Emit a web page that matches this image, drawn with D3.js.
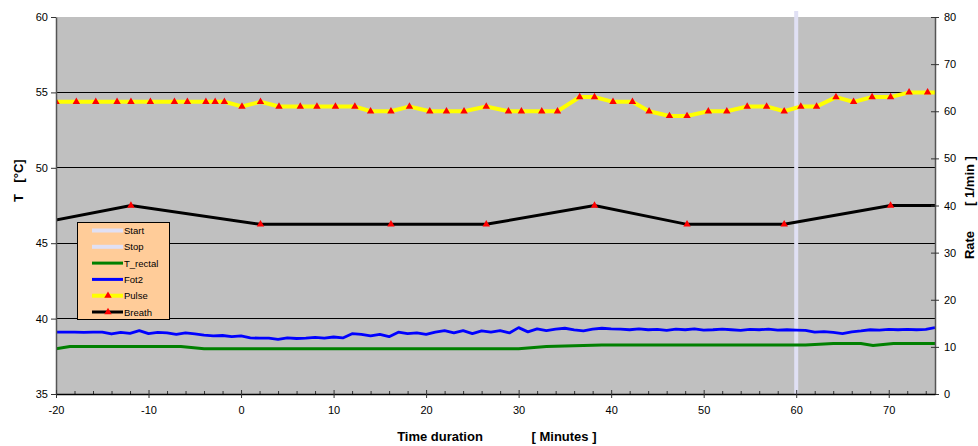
<!DOCTYPE html>
<html>
<head>
<meta charset="utf-8">
<script src="https://cdn.jsdelivr.net/npm/d3@7"></script>
<style>
  body { margin: 0; background: #fff; }
  text { font-family: "Liberation Sans", Arial, sans-serif; }
</style>
</head>
<body>
<div class="vis-area"></div>
<script>
var width = 978;
var height = 446;
var plot = {left: 56, right: 935, top: 17, bottom: 394};

// axis ticks
var timeTicks = [-20, -10, 0, 10, 20, 30, 40, 50, 60, 70];
var tempTicks = [35, 40, 45, 50, 55, 60];
var rateTicks = [0, 10, 20, 30, 40, 50, 60, 70, 80];
var startStop = [60];

// Pulse [minute, 1/min] (right axis)
var pulse = [
  [-20, 62], [-17.8, 62], [-15.7, 62], [-13.4, 62], [-11.9, 62], [-9.8, 62],
  [-7.2, 62], [-5.8, 62], [-3.8, 62], [-2.8, 62], [-1.8, 62], [0.1, 61],
  [2.1, 62], [4.1, 61], [6.4, 61], [8.2, 61], [10.2, 61], [12.3, 61],
  [14.0, 60], [16.2, 60], [18.2, 61], [20.4, 60], [22.2, 60], [24.1, 60],
  [26.5, 61], [28.9, 60], [30.3, 60], [32.5, 60], [34.2, 60], [36.6, 63],
  [38.2, 63], [40.2, 62], [42.3, 62], [44.1, 60], [46.3, 59], [48.2, 59],
  [50.5, 60], [52.5, 60], [54.7, 61], [56.8, 61], [58.7, 60], [60.5, 61],
  [62.2, 61], [64.3, 63], [66.2, 62], [68.2, 63], [70.2, 63], [72.2, 64],
  [74.2, 64], [76.5, 64]
];

// Breath [minute, 1/min] (right axis)
var breath = [
  [-22.5, 36], [-11.9, 40], [2.1, 36], [16.2, 36], [26.5, 36], [38.2, 40],
  [48.2, 36], [58.7, 36], [70.2, 40], [77, 40]
];

// T_rectal [minute, °C]
var tRectal = [
  [-20, 38.0], [-18.5, 38.15], [-6.5, 38.15], [-4, 38.0], [30, 38.0],
  [33, 38.15], [39, 38.25], [61, 38.25], [64, 38.35], [67, 38.35],
  [68.3, 38.22], [70.5, 38.35], [75, 38.35]
];

// Fot2 [minute, °C]
var fot2 = [
  [-20, 39.1], [-19, 39.1], [-18, 39.1], [-17, 39.08], [-16, 39.1], [-15, 39.1],
  [-14, 38.98], [-13, 39.08], [-12, 39.02], [-11, 39.2], [-10, 39.0], [-9, 39.08],
  [-8, 39.05], [-7, 38.95], [-6, 39.05], [-5, 38.98], [-4, 38.9], [-3, 38.85],
  [-2, 38.88], [-1, 38.8], [0, 38.85], [1, 38.72], [2, 38.7], [3, 38.7],
  [4, 38.62], [5, 38.72], [6, 38.68], [7, 38.7], [8, 38.75], [9, 38.7],
  [10, 38.78], [11, 38.72], [12, 39.0], [13, 38.95], [14, 38.85], [15, 38.95],
  [16, 38.8], [17, 39.1], [18, 39.0], [19, 39.05], [20, 38.95], [21, 39.1],
  [22, 39.2], [23, 39.05], [24, 39.2], [25, 39.0], [26, 39.18], [27, 39.1],
  [28, 39.2], [29, 39.05], [30, 39.4], [31, 39.12], [32, 39.32], [33, 39.2],
  [34, 39.3], [35, 39.36], [36, 39.25], [37, 39.18], [38, 39.3], [39, 39.36],
  [40, 39.32], [41, 39.3], [42, 39.26], [43, 39.32], [44, 39.26], [45, 39.28],
  [46, 39.22], [47, 39.3], [48, 39.26], [49, 39.32], [50, 39.24], [51, 39.26],
  [52, 39.3], [53, 39.26], [54, 39.22], [55, 39.28], [56, 39.26], [57, 39.3],
  [58, 39.24], [59, 39.26], [60, 39.24], [61, 39.22], [62, 39.1], [63, 39.14],
  [64, 39.08], [65, 39.0], [66, 39.12], [67, 39.18], [68, 39.26], [69, 39.24],
  [70, 39.28], [71, 39.26], [72, 39.28], [73, 39.26], [74, 39.28], [75, 39.4]
];

var legendItems = [
  {name: 'Start', color: '#e0e0f4', width: 4, marker: false},
  {name: 'Stop', color: '#e0e0f4', width: 4, marker: false},
  {name: 'T_rectal', color: '#008000', width: 3, marker: false},
  {name: 'Fot2', color: '#0000ff', width: 3, marker: false},
  {name: 'Pulse', color: '#ffff00', width: 4, marker: true},
  {name: 'Breath', color: '#000000', width: 3, marker: true}
];

var svg = d3.select('.vis-area')
  .append('svg')
  .attr('width', width)
  .attr('height', height);

var x = d3.scaleLinear().domain([-20, 75]).range([plot.left, plot.right]);
var yT = d3.scaleLinear().domain([35, 60]).range([plot.bottom, plot.top]);
var yR = d3.scaleLinear().domain([0, 80]).range([plot.bottom, plot.top]);

svg.append('defs').append('clipPath').attr('id', 'clip')
  .append('rect')
  .attr('x', plot.left).attr('y', plot.top - 6)
  .attr('width', plot.right - plot.left).attr('height', plot.bottom - plot.top + 6);

// plot background
svg.append('rect')
  .attr('x', plot.left).attr('y', plot.top)
  .attr('width', plot.right - plot.left).attr('height', plot.bottom - plot.top)
  .attr('fill', '#c0c0c0');

// gridlines
svg.append('g').selectAll('line')
  .data(tempTicks.filter(d => d > 35 && d < 60))
  .enter().append('line')
  .attr('x1', plot.left).attr('x2', plot.right)
  .attr('y1', d => yT(d)).attr('y2', d => yT(d))
  .attr('stroke', '#000').attr('stroke-width', 1)
  .attr('shape-rendering', 'crispEdges');

// start / stop marker
svg.append('g').selectAll('line')
  .data(startStop)
  .enter().append('line')
  .attr('x1', d => x(d)).attr('x2', d => x(d))
  .attr('y1', 11).attr('y2', plot.bottom)
  .attr('stroke', '#e0e0f4').attr('stroke-width', 4);

var series = svg.append('g').attr('clip-path', 'url(#clip)');

var lineT = d3.line().x(d => x(d[0])).y(d => yT(d[1]));
var lineR = d3.line().x(d => x(d[0])).y(d => yR(d[1]));

series.append('path').datum(tRectal)
  .attr('d', lineT).attr('fill', 'none')
  .attr('stroke', '#008000').attr('stroke-width', 3);

series.append('path').datum(fot2)
  .attr('d', lineT).attr('fill', 'none')
  .attr('stroke', '#0000ff').attr('stroke-width', 2.8)
  .attr('stroke-linejoin', 'round');

series.append('path').datum(breath)
  .attr('d', lineR).attr('fill', 'none')
  .attr('stroke', '#000').attr('stroke-width', 3);

series.append('path').datum(pulse)
  .attr('d', lineR).attr('fill', 'none')
  .attr('stroke', '#ffff00').attr('stroke-width', 4);

var tri = d3.symbol().type(d3.symbolTriangle).size(24);

series.selectAll('.breath-mark')
  .data(breath)
  .enter().append('path')
  .attr('class', 'breath-mark')
  .attr('d', tri)
  .attr('transform', d => `translate(${x(d[0])},${yR(d[1])})`)
  .attr('fill', '#ff0000');

series.selectAll('.pulse-mark')
  .data(pulse)
  .enter().append('path')
  .attr('class', 'pulse-mark')
  .attr('d', tri)
  .attr('transform', d => `translate(${x(d[0])},${yR(d[1])})`)
  .attr('fill', '#ff0000');

// axes
var plainFormat = d => String(d);

function styleAxis(g) {
  g.selectAll('text').attr('font-size', 11).attr('fill', '#000')
    .style('font-family', '"Liberation Sans", Arial, sans-serif');
  g.selectAll('line').attr('stroke', '#333');
}

var leftAxis = svg.append('g')
  .attr('transform', `translate(${plot.left},0)`)
  .call(d3.axisLeft(yT).tickValues(tempTicks).tickFormat(plainFormat)
    .tickSize(5).tickSizeOuter(0).tickPadding(3));
leftAxis.select('.domain').attr('stroke', '#555').attr('stroke-width', 1.5);
styleAxis(leftAxis);

var rightAxis = svg.append('g')
  .attr('transform', `translate(${plot.right},0)`)
  .call(d3.axisRight(yR).tickValues(rateTicks).tickFormat(plainFormat)
    .tickSize(4).tickSizeOuter(0).tickPadding(5));
rightAxis.selectAll('.tick line').attr('x1', -4);
rightAxis.select('.domain').attr('stroke', '#555').attr('stroke-width', 1.5);
styleAxis(rightAxis);

var minorTicks = d3.range(-20, 76, 2).filter(d => timeTicks.indexOf(d) < 0);
var minorAxis = svg.append('g')
  .attr('transform', `translate(0,${plot.bottom})`)
  .call(d3.axisBottom(x).tickValues(minorTicks).tickSize(-3).tickFormat(''));
minorAxis.select('.domain').remove();
minorAxis.selectAll('line').attr('stroke', '#333');

var bottomAxis = svg.append('g')
  .attr('transform', `translate(0,${plot.bottom})`)
  .call(d3.axisBottom(x).tickValues(timeTicks).tickFormat(plainFormat)
    .tickSize(4).tickSizeOuter(0).tickPadding(8));
bottomAxis.selectAll('.tick line').attr('y1', -4);
bottomAxis.select('.domain').attr('stroke', '#000').attr('stroke-width', 1.5);
styleAxis(bottomAxis);

// axis titles
var titleFont = {size: 13, weight: 'bold'};
svg.append('text')
  .attr('x', 440).attr('y', 441)
  .attr('text-anchor', 'middle')
  .attr('font-size', titleFont.size).attr('font-weight', titleFont.weight)
  .text('Time duration');
svg.append('text')
  .attr('x', 564).attr('y', 441)
  .attr('text-anchor', 'middle')
  .attr('font-size', titleFont.size).attr('font-weight', titleFont.weight)
  .text('[ Minutes ]');

svg.append('text')
  .attr('transform', 'translate(23,198) rotate(-90)')
  .attr('text-anchor', 'middle')
  .attr('font-size', titleFont.size).attr('font-weight', titleFont.weight)
  .text('T');
svg.append('text')
  .attr('transform', 'translate(23,171) rotate(-90)')
  .attr('text-anchor', 'middle')
  .attr('font-size', titleFont.size).attr('font-weight', titleFont.weight)
  .text('[°C]');

svg.append('text')
  .attr('transform', 'translate(974,245) rotate(-90)')
  .attr('text-anchor', 'middle')
  .attr('font-size', titleFont.size).attr('font-weight', titleFont.weight)
  .text('Rate');
svg.append('text')
  .attr('transform', 'translate(974,181) rotate(-90)')
  .attr('text-anchor', 'middle')
  .attr('font-size', titleFont.size).attr('font-weight', titleFont.weight)
  .text('[ 1/min ]');

// legend
var legend = svg.append('g').attr('transform', 'translate(77,222)');
legend.append('rect')
  .attr('x', 0.5).attr('y', 0.5)
  .attr('width', 92).attr('height', 97)
  .attr('fill', '#ffcc99').attr('stroke', '#000').attr('stroke-width', 1);

var rows = legend.selectAll('.row')
  .data(legendItems)
  .enter().append('g')
  .attr('class', 'row')
  .attr('transform', (d, i) => `translate(0,${8.5 + i * 16.3})`);

rows.append('line')
  .attr('x1', 15).attr('x2', 46)
  .attr('stroke', d => d.color)
  .attr('stroke-width', d => d.width);

rows.filter(d => d.marker).append('path')
  .attr('d', tri)
  .attr('transform', 'translate(31,0)')
  .attr('fill', '#ff0000');

rows.append('text')
  .attr('x', 47).attr('y', 3.5)
  .attr('font-size', 9.5)
  .text(d => d.name);
</script>
</body>
</html>
